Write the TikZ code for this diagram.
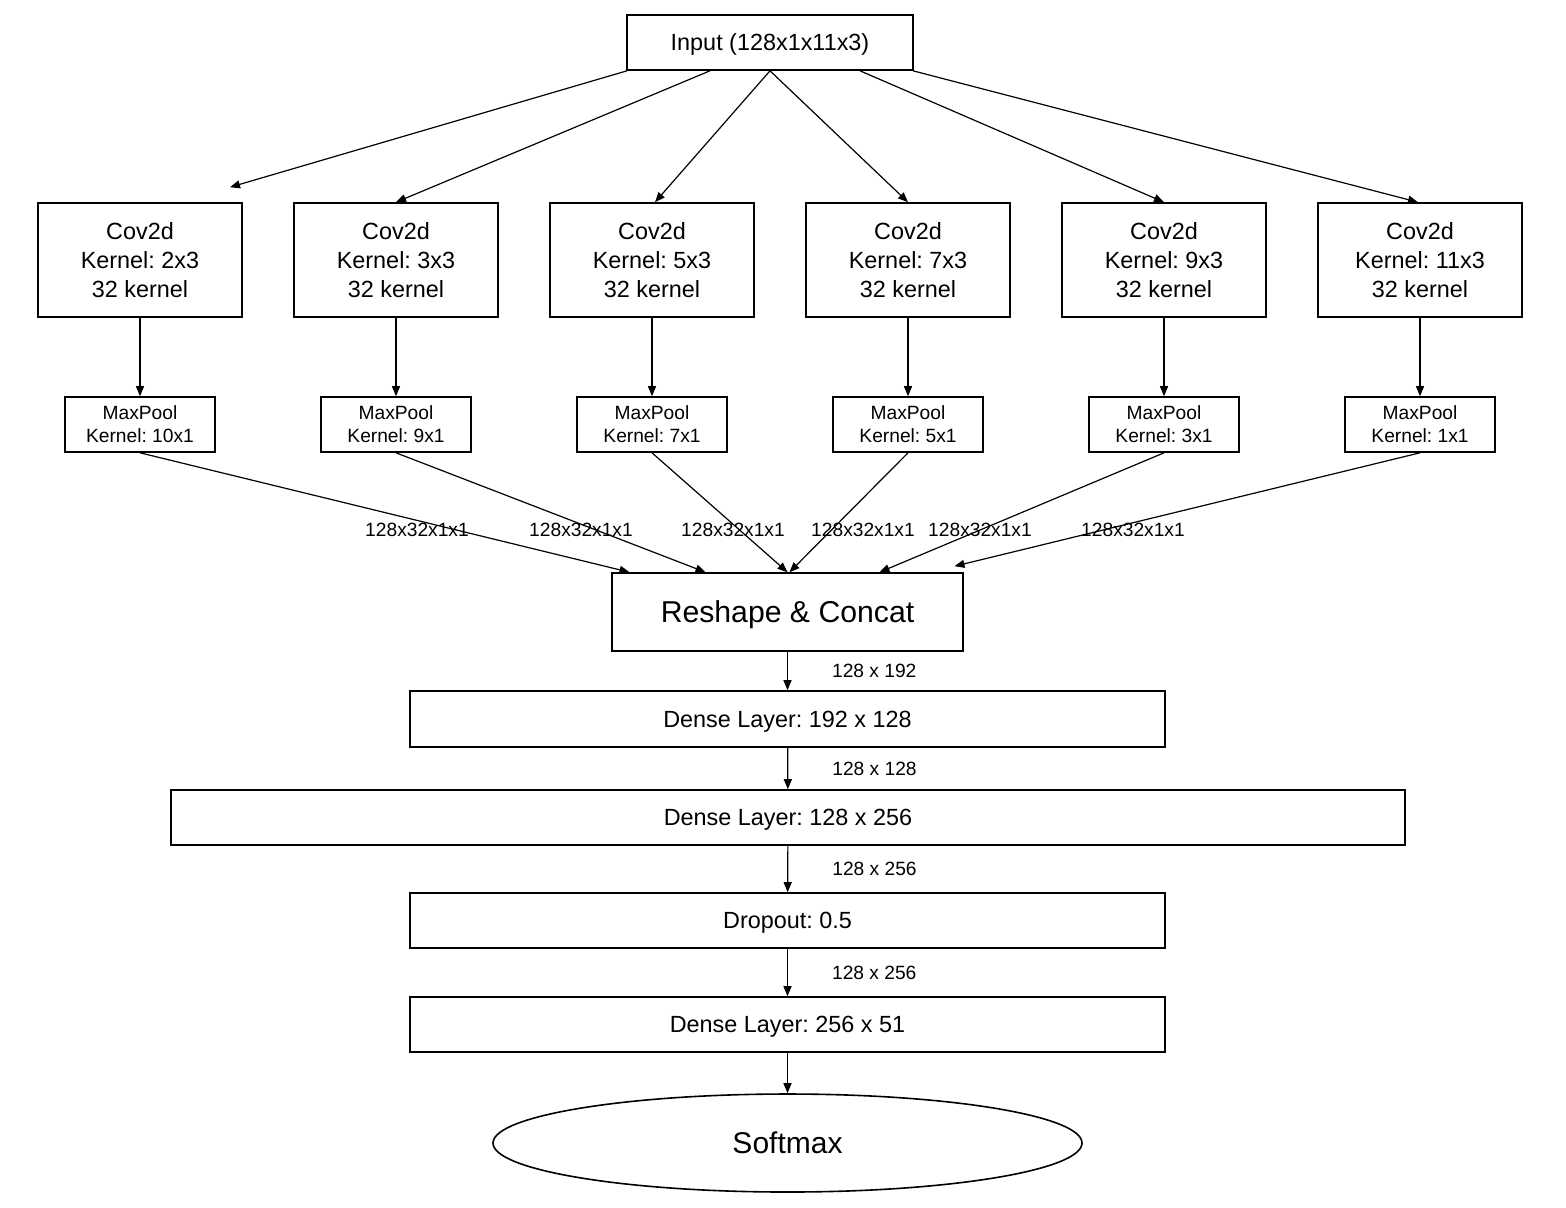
\documentclass[tikz,border=0pt]{standalone}
\usepackage{fontspec}
\setmainfont{Liberation Sans}
\usetikzlibrary{arrows.meta,shapes.geometric,calc}
\frenchspacing
\newlength{\convwidth}
\setlength{\convwidth}{102pt}
\tikzset{
    layer/.style={draw, line width=0.8pt, inner sep=0pt, align=center, font=\fontsize{11.7}{14.5}\selectfont},
    flatlayer/.style={layer, text depth=0pt},
    convbox/.style={layer, minimum width=\convwidth, minimum height=57pt},
    poolbox/.style={layer, minimum width=75pt, minimum height=27.5pt, font=\fontsize{9.6}{11.5}\selectfont},
    dimlabel/.style={inner sep=0pt, font=\fontsize{9.6}{11.5}\selectfont},
    flow/.style={-{Triangle[length=5pt,width=4pt]}, line width=0.6pt},
}

\begin{document}
\begin{tikzpicture}[x=0.5pt, y=-0.5pt]
    \useasboundingbox (0,0) rectangle (1566,1207);

    \node[flatlayer, minimum width=143pt, minimum height=27.5pt] (input) at (770,42.5) {Input (128x1x11x3)};
    \node[flatlayer, minimum width=175.5pt, minimum height=39pt, font=\fontsize{15.1}{18}\selectfont] (concat) at (787.5,612) {Reshape \& Concat};
    \node[flatlayer, minimum width=377.5pt, minimum height=28pt] (dense1) at (787.5,719) {Dense Layer: 192 x 128};
    \node[flatlayer, minimum width=617pt, minimum height=27.5pt] (dense2) at (788,817.5) {Dense Layer: 128 x 256};
    \node[flatlayer, minimum width=377.5pt, minimum height=27.5pt] (dropout) at (787.5,920.5) {Dropout: 0.5};
    \node[flatlayer, minimum width=377.5pt, minimum height=27.5pt] (dense3) at (787.5,1024.5) {Dense Layer: 256 x 51};
    \node[flatlayer, ellipse, minimum width=294.5pt, minimum height=49pt, font=\fontsize{15}{18}\selectfont] (softmax) at (787.5,1143) {Softmax};

    \foreach \i/\ck/\pk/\s/\ex/\ey/\t/\ty/\lx in {
        1/2x3/10x1/-143/90/-15/-158/0/417,
        2/3x3/9x1/-60/0/0/-82/0/581,
        3/5x3/7x1/0/3/0/0/0/733,
        4/7x3/5x1/0/0/0/2/0/863,
        5/9x3/3x1/90/0/0/92/0/980,
        6/11x3/1x1/143/-2/0/167/-6/1133} {
        \node[convbox] (conv\i) at ({140+256*(\i-1)},260) {Cov2d\\Kernel: \ck\\32 kernel};
        \node[poolbox] (pool\i) at ({140+256*(\i-1)},424.5) {MaxPool\\Kernel: \pk};
        \draw[flow] ($(input.south)+(\s,0)$) -- ($(conv\i.north)+(\ex,\ey)$);
        \draw[flow] (conv\i) -- (pool\i);
        \draw[flow] (pool\i.south) -- ($(concat.north)+(\t,\ty)$);
        \node[dimlabel] (dim\i) at (\lx,530) {128x32x1x1};
    }

    \draw[flow] (concat) -- node[dimlabel, right=22pt] (dimA) {128 x 192} (dense1);
    \draw[flow] (dense1) -- node[dimlabel, right=22pt] (dimB) {128 x 128} (dense2);
    \draw[flow] (dense2) -- node[dimlabel, right=22pt] (dimC) {128 x 256} (dropout);
    \draw[flow] (dropout) -- node[dimlabel, right=22pt] (dimD) {128 x 256} (dense3);
    \draw[flow] (dense3) -- (softmax);
\end{tikzpicture}
\end{document}
